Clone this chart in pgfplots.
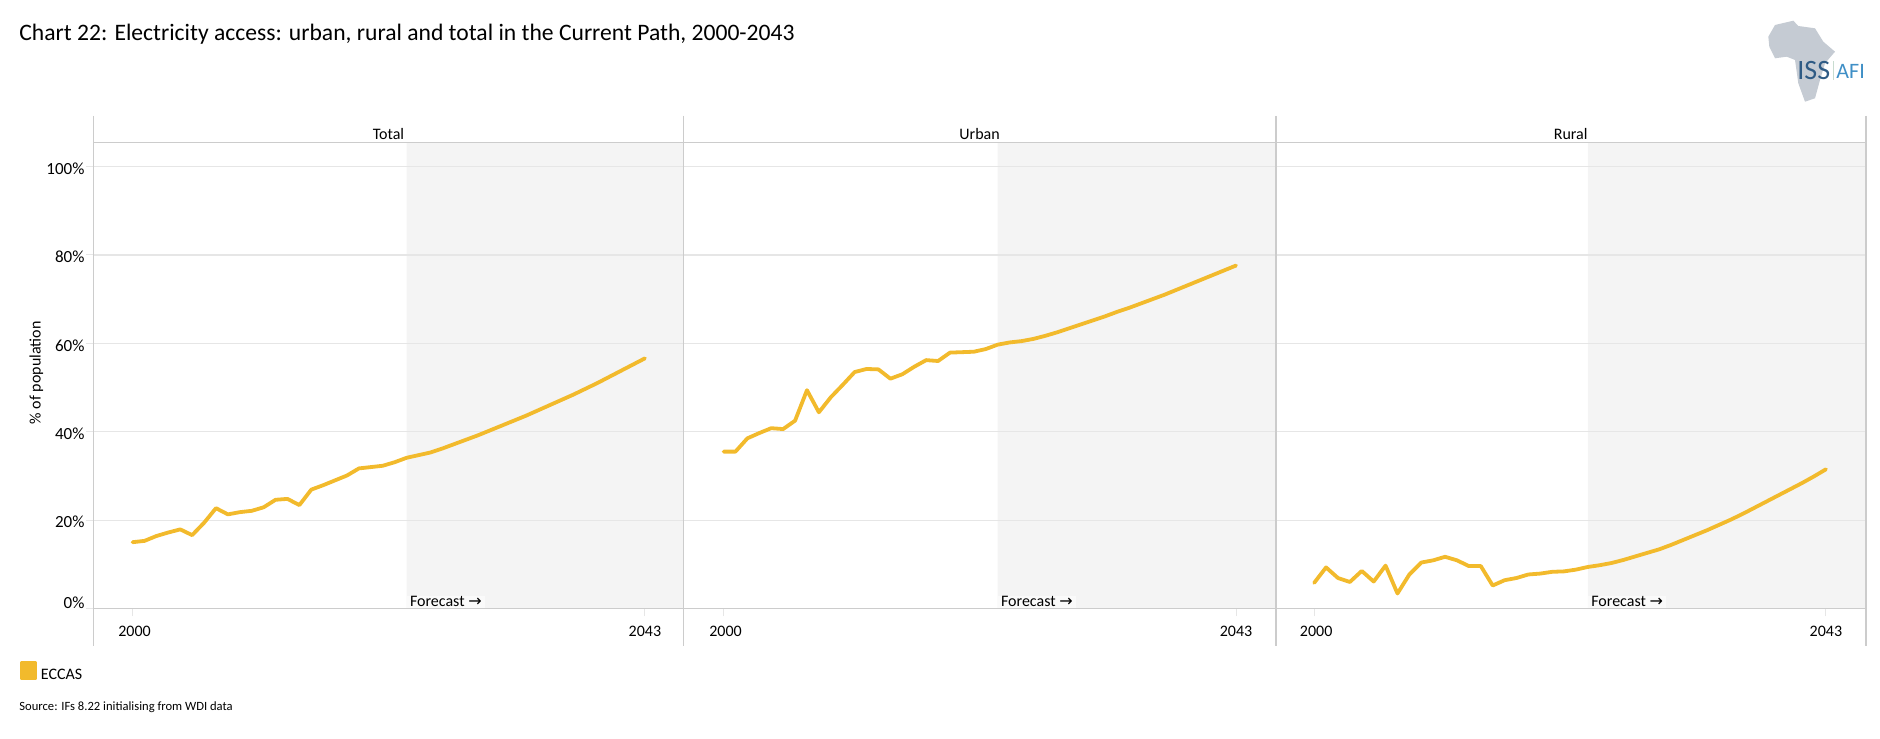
\documentclass[border=0pt]{standalone}
\usepackage{fontspec}
\setmainfont{Carlito}
\newfontfamily\arrowfont{DejaVu Sans}
\usepackage{pgfplots}
\usepackage{pgfplotstable}
\pgfplotsset{compat=1.18}

\definecolor{eccas}{HTML}{F2BA2C}
\definecolor{framegray}{HTML}{CCCCCC}
\definecolor{gridgray}{HTML}{E6E6E6}
\definecolor{shade}{HTML}{F4F4F4}
\definecolor{issblue}{HTML}{2F5B85}
\definecolor{afiblue}{HTML}{3F8FC6}
\definecolor{africa}{HTML}{C5CBD3}
\definecolor{logosep}{HTML}{C8DCD0}

\pgfplotstableread{
year total urban rural
2000 15.0 35.5 5.8
2001 15.3 35.5 9.3
2002 16.4 38.5 6.9
2003 17.2 39.7 6.0
2004 17.9 40.8 8.5
2005 16.6 40.6 6.1
2006 19.4 42.5 9.7
2007 22.7 49.4 3.4
2008 21.3 44.4 7.7
2009 21.8 47.8 10.4
2010 22.1 50.6 10.9
2011 22.9 53.5 11.7
2012 24.6 54.2 10.9
2013 24.8 54.1 9.6
2014 23.4 52.0 9.6
2015 26.9 53.0 5.2
2016 27.9 54.7 6.4
2017 29.0 56.2 6.9
2018 30.1 56.0 7.7
2019 31.7 57.9 7.9
2020 32.0 58.0 8.3
2021 32.3 58.1 8.4
2022 33.1 58.7 8.8
2023 34.1 59.7 9.4
2024 34.7 60.2 9.8
2025 35.3 60.5 10.3
2026 36.2 61.0 11.0
2027 37.2 61.7 11.8
2028 38.2 62.5 12.6
2029 39.2 63.4 13.4
2030 40.3 64.3 14.4
2031 41.4 65.2 15.5
2032 42.5 66.1 16.6
2033 43.6 67.1 17.7
2034 44.8 68.0 18.9
2035 46.0 69.0 20.1
2036 47.2 70.0 21.4
2037 48.4 71.0 22.8
2038 49.7 72.1 24.2
2039 51.0 73.2 25.6
2040 52.4 74.3 27.0
2041 53.8 75.4 28.4
2042 55.2 76.5 29.9
2043 56.6 77.6 31.5
}\accessdata

\pgfplotsset{
  panel/.style={
    scale only axis,
    height=232.9pt,
    set layers=standard,
    clip=false,
    ymin=0, ymax=105.4,
    ytick={0,20,40,60,80,100},
    xtick={2000,2043},
    xticklabels={\hspace{2pt}2000,2043\hspace{2pt}},
    ymajorgrids,
    grid style={gridgray,line width=0.6pt},
    axis x line*=bottom,
    axis y line*=left,
    axis line style={framegray,line width=0.6pt,-},
    tick style={gridgray,line width=0.5pt},
    major tick length=4pt,
    tick label style={font=\fontsize{8}{9}\selectfont,text=black},
    xticklabel style={yshift=-1.2pt},
    tick align=outside,
  },
  accessline/.style={eccas,line width=1.9pt,line join=round,line cap=round},
}

% one facet: left edge, width, x range, column, extra options
\newcommand{\facet}[6]{%
  \begin{axis}[panel,at={(#1pt,65.25pt)},anchor=south west,width=#2pt,
      xmin=#3,xmax=#4,#6]
    \addplot[fill=shade,draw=none,on layer=axis background,forget plot]
      coordinates {(2023,0) (#4,0) (#4,105.4) (2023,105.4) (2023,0)};
    \addplot[accessline] table[x=year,y=#5] {\accessdata};
    \node[anchor=south west,fill=white,fill opacity=0.6,text opacity=1,inner xsep=1.5pt,inner ysep=0.5pt,
      font=\fontsize{8}{9}\selectfont] at (axis cs:2023,0)
      {Forecast {\arrowfont\fontsize{8}{9}\selectfont→}};
    \node[anchor=south,inner sep=1.5pt,font=\fontsize{8}{9}\selectfont]
      at (axis description cs:0.5,1) {\facetname};
    \draw[framegray,line width=0.6pt] (axis description cs:0,1) -- (axis description cs:1,1);
    \draw[framegray,line width=0.6pt] (axis description cs:0,1.0575) -- (axis description cs:0,-0.0805);
    \draw[framegray,line width=0.9pt] (axis description cs:1,1.0575) -- (axis description cs:1,-0.0805);
    \facetextra
  \end{axis}%
}

\begin{document}
\begin{tikzpicture}
  \path (0,0) rectangle (940pt,369.5pt);

  \node[anchor=west,inner sep=0pt,font=\fontsize{11.8}{13}\selectfont] at (9.5pt,352.5pt)
    {Chart 22: Electricity access: urban, rural and total in the Current Path, 2000-2043};

  \def\facetname{Total}
  \def\facetextra{\node[rotate=90,font=\fontsize{8}{9}\selectfont] at (axis description cs:-0.0967,0.506) {\% of population};}
  \facet{46.75}{295}{1996.72}{2046.24}{total}{
    yticklabels={\raisebox{8pt}{0\%},20\%,40\%,60\%,80\%,100\%},
    yticklabel style={font=\fontsize{8.5}{9}\selectfont,xshift=3pt,yshift=-1pt},
    legend entries={ECCAS},
    legend style={at={(-0.125,-0.14)},anchor=west,draw=none,fill=none,
      font=\fontsize{8}{9}\selectfont,inner sep=0pt,
      legend cell align=left},
    legend image code/.code={\fill[eccas] (-3.5pt,-1.25pt) rectangle (3pt,6.75pt);},
  }
  \def\facetextra{}
  \def\facetname{Urban}
  \facet{341.75}{296.1}{1996.64}{2046.33}{urban}{yticklabels={},ytick style={draw=none}}
  \def\facetname{Rural}
  \facet{637.85}{295}{1996.77}{2046.34}{rural}{yticklabels={},ytick style={draw=none}}

  % logo
  \begin{scope}[x=0.5pt,y=-0.5pt,shift={(0,369.5pt)}]
    \fill[africa] (1768.3,36.7) -- (1775,25) -- (1793.3,20.7) -- (1798.3,26)
      -- (1815,28.3) -- (1823.3,41.7) -- (1835,51.7) -- (1825,63.3)
      -- (1820,80) -- (1815,98.3) -- (1805,101.7) -- (1798.3,83.3)
      -- (1795,60) -- (1786.7,56.7) -- (1775,58.3) -- (1769.3,46.7) -- cycle;
    \node[anchor=west,inner sep=0pt,text=issblue,font=\fontsize{14}{15}\selectfont] at (1797,71) {ISS};
    \fill[logosep] (1832.5,61) rectangle (1834,80);
    \node[anchor=west,inner sep=0pt,text=afiblue,font=\fontsize{11}{12}\selectfont] at (1836,71) {AFI};
  \end{scope}

  \node[anchor=west,inner sep=0pt,font=\fontsize{6.3}{8}\selectfont] at (9.5pt,15.75pt)
    {Source: IFs 8.22 initialising from WDI data};
\end{tikzpicture}
\end{document}
